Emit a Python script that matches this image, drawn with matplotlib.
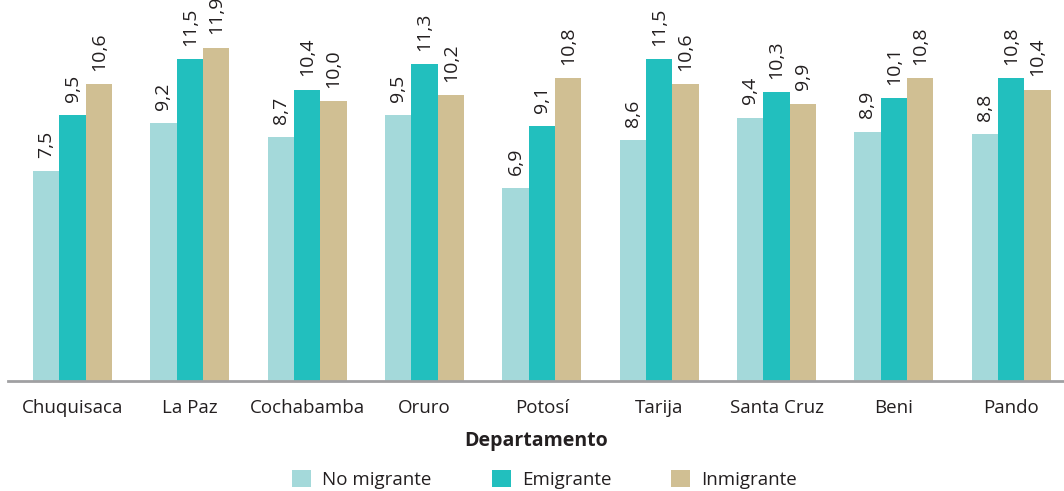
import numpy as np
import matplotlib
matplotlib.use("Agg")
import matplotlib.pyplot as plt
from matplotlib.patches import Patch

plt.rcParams['font.family'] = ['Open Sans', 'DejaVu Sans']

# datos por departamento
departamentos = ["Chuquisaca", "La Paz", "Cochabamba", "Oruro", "Potosí",
                 "Tarija", "Santa Cruz", "Beni", "Pando"]
no_migrante = [7.5, 9.2, 8.7, 9.5, 6.9, 8.6, 9.4, 8.9, 8.8]
emigrante = [9.5, 11.5, 10.4, 11.3, 9.1, 11.5, 10.3, 10.1, 10.8]
inmigrante = [10.6, 11.9, 10.0, 10.2, 10.8, 10.6, 9.9, 10.8, 10.4]

series = ["No migrante", "Emigrante", "Inmigrante"]
colores = ["#a4d9da", "#22bfbe", "#d0bf93"]

fig = plt.figure(figsize=(10.64, 4.91), dpi=100)
ax = fig.add_axes([8 / 1064, 110 / 491, 1 - 8 / 1064, 381 / 491])

x = np.arange(len(departamentos))
w = 0.225
for i, (vals, col) in enumerate(zip([no_migrante, emigrante, inmigrante], colores)):
    pos = x + (i - 1) * w
    ax.bar(pos, vals, width=w, color=col, linewidth=0)
    for p, v in zip(pos, vals):
        ax.annotate(f"{v:.1f}".replace(".", ","), (p, v), xytext=(0, 9.5),
                    textcoords="offset points", rotation=90,
                    ha="center", va="bottom", fontsize=14, color="#231f20")

ax.set_xlim(-0.55, 8.45)
ax.set_ylim(0, 13.6)
for s in ["top", "right", "left"]:
    ax.spines[s].set_visible(False)
ax.spines["bottom"].set_color("#a0a0a2")
ax.spines["bottom"].set_linewidth(2)
ax.set_yticks([])
ax.set_xticks(x)
ax.set_xticklabels(departamentos, fontsize=13.5, color="#231f20")
ax.tick_params(axis="x", length=0, pad=13)
ax.set_xlabel("Departamento", fontsize=14, fontweight="bold",
              color="#231f20", labelpad=10)

handles = [Patch(facecolor=c, edgecolor="none") for c in colores]
fig.legend(handles, series, loc="lower center", bbox_to_anchor=(0.512, -0.03),
           ncol=3, frameon=False, fontsize=13.5, handlelength=1.0,
           handleheight=1.0, columnspacing=3.2, handletextpad=0.6,
           labelcolor="#231f20")

fig.savefig("out.png", dpi=100)
